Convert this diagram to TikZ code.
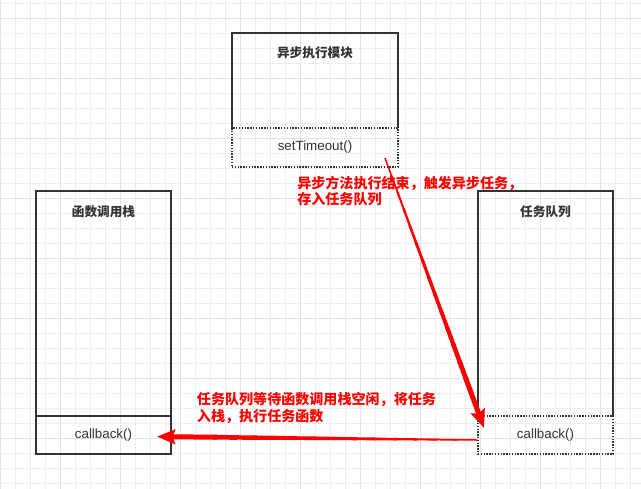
\documentclass[tikz,border=0pt]{standalone}
\usepackage{fontspec}
\setmainfont{Liberation Sans}
\newfontfamily\cjk{Noto Sans CJK SC}
\usetikzlibrary{arrows.meta, positioning, calc}
\definecolor{evGrid}{HTML}{EEEEEE}
\definecolor{evGridMajor}{HTML}{E3E3E3}
\definecolor{evInk}{HTML}{333333}
\definecolor{evRed}{HTML}{FF0000}

\begin{document}
\begin{tikzpicture}[
  %% --- box styles ---
  panel/.style={
    rectangle, anchor=north west,
    minimum width=3.375cm, minimum height=5.625cm,
    inner sep=0pt, outer sep=0pt
  },
  slot/.style={
    rectangle, minimum width=3.375cm, minimum height=0.95cm,
    inner sep=0pt, outer sep=0pt,
    font=\fontsize{9.5pt}{11pt}\selectfont, text=evInk
  },
  slotDotted/.style={slot, draw=evInk, line width=1pt, dash pattern=on 1pt off 1pt},
  slotSolid/.style={slot, draw=evInk, line width=1.1pt},
  boxLine/.style={draw=evInk, line width=1.1pt},
  title/.style={font=\cjk\bfseries\fontsize{9pt}{11pt}\selectfont, text=evInk, inner sep=0pt},
  note/.style={
    font=\cjk\bfseries\fontsize{10pt}{11.7pt}\selectfont, text=evRed,
    align=left, anchor=west, inner sep=0pt
  },
  %% --- arrow style ---
  arrowRed/.style={-{Stealth[length=0.45cm, width=0.36cm, inset=0.06cm]}, draw=evRed},
  taper/.style={draw=evRed, line cap=butt}
]

%% background grid
\fill[white] (0,0) rectangle (16.025,-12.2);
\begin{scope}
  \clip (0,0) rectangle (16.025,-12.2);
  \draw[evGrid, line width=0.7pt, step=0.375cm, yshift=-0.075cm] (0,0.5) grid (16.2,-12.5);
  \draw[evGridMajor, line width=0.7pt, step=1.5cm, yshift=-0.45cm] (0,0.5) grid (16.2,-12.5);
\end{scope}
\useasboundingbox (0,0) rectangle (16.025,-12.2);

%% =========================================================
%% BOXES
%% =========================================================
\node (asyncBox) [panel, minimum width=4.15cm, minimum height=2.375cm] at (5.8,-0.825) {};
\node (asyncSlot) [slotDotted, minimum width=4.15cm, minimum height=0.975cm, below=0pt of asyncBox] {setTimeout()};
\node (asyncTitle) [title] at ([yshift=-0.5cm]asyncBox.north) {异步执行模块};

\node (stackBox) [panel, boxLine] at (0.9,-4.775) {};
\node (stackSlot) [slotSolid, below=0pt of stackBox] {callback()};
\node (stackTitle) [title] at ([yshift=-0.525cm]stackBox.north) {函数调用栈};

\node (queueBox) [panel] at (11.95,-4.775) {};
\node (queueSlot) [slotDotted, below=0pt of queueBox] {callback()};
\node (queueTitle) [title] at ([yshift=-0.525cm]queueBox.north) {任务队列};

%% open sides (bottom edge is the dotted slot)
\draw[boxLine] (asyncBox.south west) -- (asyncBox.north west)
  -- (asyncBox.north east) -- (asyncBox.south east);
\draw[boxLine] (queueBox.south west) -- (queueBox.north west)
  -- (queueBox.north east) -- (queueBox.south east);

%% =========================================================
%% LABELS
%% =========================================================
\node (doneNote) [note] at (7.425,-4.775)
  {异步方法执行结束，触发异步任务，\\存入任务队列};
\node (pushNote) [note] at (4.917,-10.197)
  {任务队列等待函数调用栈空闲，将任务\\入栈，执行任务函数};

%% =========================================================
%% ARROWS (tapered)
%% =========================================================
\coordinate (doneStart) at ([xshift=-0.325cm, yshift=0.225cm]asyncSlot.south east);
\coordinate (queueIn)   at ([xshift=0.15cm, yshift=-0.3cm]queueSlot.north west);
\coordinate (queueOut)  at ([xshift=-0.025cm, yshift=-0.125cm]queueSlot.west);
\coordinate (stackIn)   at ([xshift=-0.35cm, yshift=-0.04cm]stackSlot.east);

\foreach \a/\b in {doneStart/queueIn, queueOut/stackIn} {
  \foreach \k [evaluate=\k as \w using 0.0375+0.00673*\k,
               evaluate=\k as \s using \k/16,
               evaluate=\k as \e using (\k+1.2)/16] in {0,...,12}
    \draw[taper, line width=\w cm] ($(\a)!\s!(\b)$) -- ($(\a)!\e!(\b)$);
  \draw[arrowRed, line width=0.125cm] ($(\a)!0.8125!(\b)$) -- (\b);
}

\end{tikzpicture}
\end{document}
